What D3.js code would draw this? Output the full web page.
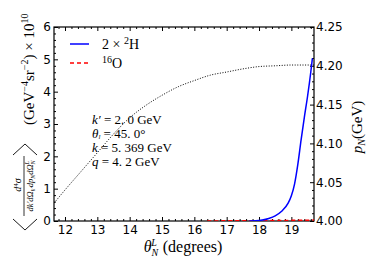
<!DOCTYPE html>
<html>
<head>
<meta charset="utf-8">
<script src="https://cdn.jsdelivr.net/npm/d3@7"></script>
<style>
body { margin: 0; background: #fff; }
svg { display: block; }
.tick text { font-family: "DejaVu Sans", sans-serif; font-size: 12px; fill: #000; }
.tick line { stroke: #000; }
.domain { display: none; }
.serif { font-family: "Liberation Serif", "DejaVu Serif", serif; fill: #000; }
</style>
</head>
<body>
<svg width="369" height="277"></svg>
<script>
// dotted curve: p_N vs theta (right axis)
const pTheta = [11.66, 12, 12.5, 13, 13.5, 14, 14.5, 15, 15.5, 16, 16.5, 17, 17.5, 18, 18.5, 19, 19.5, 19.7];
const pN = [4.023, 4.040, 4.064, 4.088, 4.112, 4.133, 4.149, 4.162, 4.173, 4.181, 4.188, 4.192, 4.196, 4.199, 4.200, 4.201, 4.201, 4.201];

// 2 x 2H cross section
const dTheta = [17.7, 17.9, 18.1, 18.3, 18.5, 18.7, 18.9, 19.0, 19.1, 19.2, 19.3, 19.4, 19.5, 19.6, 19.65];
const dVal = [0, 0.005, 0.03, 0.08, 0.16, 0.3, 0.55, 0.78, 1.15, 1.75, 2.5, 3.2, 3.85, 4.6, 5.03];

// 16O cross section
const oTheta = [16.4, 16.8, 17.2, 17.6, 18.0, 18.4, 18.8, 19.2, 19.6, 19.7];
const oVal = [0.002, 0.004, 0.006, 0.008, 0.011, 0.014, 0.018, 0.022, 0.027, 0.028];

const xTicks = [12, 13, 14, 15, 16, 17, 18, 19];
const yTicks = [0, 1, 2, 3, 4, 5, 6];
const rTicks = [4.00, 4.05, 4.10, 4.15, 4.20, 4.25];

const margin = { left: 54, right: 55, top: 27, bottom: 56 };
const W = 369, H = 277;
const svg = d3.select('svg');

const x = d3.scaleLinear().domain([11.66, 19.7]).range([margin.left, W - margin.right]);
const yL = d3.scaleLinear().domain([0, 6]).range([H - margin.bottom, margin.top]);
const yR = d3.scaleLinear().domain([4, 4.25]).range([H - margin.bottom, margin.top]);

const x0 = margin.left, x1 = W - margin.right, y0 = H - margin.bottom, y1 = margin.top;

const range = (a, b, s) => d3.range(Math.round((b - a) / s) + 1).map((i) => +(a + i * s).toFixed(4));
const xMinor = range(11.8, 19.6, 0.2).filter((v) => !xTicks.includes(v));
const yMinor = range(0, 6, 0.2).filter((v) => !yTicks.includes(v));
const rMinor = range(4, 4.25, 0.01).filter((v) => !rTicks.some((t) => Math.abs(t - v) < 1e-6));

// axes
svg.append('g').attr('transform', `translate(0,${y0})`)
	.call(d3.axisBottom(x).tickValues(xTicks).tickSize(-4).tickPadding(4).tickFormat(d3.format('d')));
svg.append('g').attr('transform', `translate(0,${y0})`)
	.call(d3.axisBottom(x).tickValues(xMinor).tickSize(-2).tickFormat(''));
svg.append('g').attr('transform', `translate(0,${y1})`)
	.call(d3.axisTop(x).tickValues(xTicks).tickSize(-4).tickFormat(''));
svg.append('g').attr('transform', `translate(0,${y1})`)
	.call(d3.axisTop(x).tickValues(xMinor).tickSize(-2).tickFormat(''));

svg.append('g').attr('transform', `translate(${x0},0)`)
	.call(d3.axisLeft(yL).tickValues(yTicks).tickSize(-4).tickPadding(3).tickFormat(d3.format('d')));
svg.append('g').attr('transform', `translate(${x0},0)`)
	.call(d3.axisLeft(yL).tickValues(yMinor).tickSize(-2).tickFormat(''));

svg.append('g').attr('transform', `translate(${x1},0)`)
	.call(d3.axisRight(yR).tickValues(rTicks).tickSize(-4).tickPadding(2).tickFormat(d3.format('.2f')));
svg.append('g').attr('transform', `translate(${x1},0)`)
	.call(d3.axisRight(yR).tickValues(rMinor).tickSize(-2).tickFormat(''));

svg.append('rect').attr('x', x0).attr('y', y1).attr('width', x1 - x0).attr('height', y0 - y1)
	.attr('fill', 'none').attr('stroke', '#000').attr('stroke-width', 1.2);

// curves
svg.append('clipPath').attr('id', 'clip').append('rect')
	.attr('x', x0).attr('y', y1 - 2).attr('width', x1 - x0).attr('height', y0 - y1 + 2);

const plot = svg.append('g').attr('clip-path', 'url(#clip)');

plot.append('path')
	.datum(pTheta.map((t, i) => [t, pN[i]]))
	.attr('d', d3.line().x((d) => x(d[0])).y((d) => yR(d[1])).curve(d3.curveMonotoneX))
	.attr('fill', 'none').attr('stroke', '#000').attr('stroke-width', 1).attr('stroke-dasharray', '1,1.6');

plot.append('path')
	.datum(oTheta.map((t, i) => [t, oVal[i]]))
	.attr('d', d3.line().x((d) => x(d[0])).y((d) => yL(d[1])).curve(d3.curveMonotoneX))
	.attr('fill', 'none').attr('stroke', '#ff0000').attr('stroke-width', 1.5).attr('stroke-dasharray', '4,3');

plot.append('path')
	.datum(dTheta.map((t, i) => [t, dVal[i]]))
	.attr('d', d3.line().x((d) => x(d[0])).y((d) => yL(d[1])).curve(d3.curveMonotoneX))
	.attr('fill', 'none').attr('stroke', '#0000ff').attr('stroke-width', 1.5);

// legend
svg.append('line').attr('x1', 70).attr('x2', 89).attr('y1', 44).attr('y2', 44)
	.attr('stroke', '#0000ff').attr('stroke-width', 1.5);
svg.append('line').attr('x1', 70).attr('x2', 89).attr('y1', 63).attr('y2', 63)
	.attr('stroke', '#ff0000').attr('stroke-width', 1.5).attr('stroke-dasharray', '4,3');

const l1 = svg.append('text').attr('class', 'serif').attr('x', 102).attr('y', 49).style('font-size', '14px');
l1.append('tspan').text('2 × ');
l1.append('tspan').attr('dy', -5).style('font-size', '10px').text('2');
l1.append('tspan').attr('dy', 5).text('H');

const l2 = svg.append('text').attr('class', 'serif').attr('x', 102).attr('y', 68).style('font-size', '14px');
l2.append('tspan').attr('dy', -5).style('font-size', '10px').text('16');
l2.append('tspan').attr('dy', 5).text('O');

// annotation
const ann = svg.append('g').attr('class', 'serif').style('font-size', '13px');
const a1 = ann.append('text').attr('x', 92).attr('y', 124);
a1.append('tspan').style('font-style', 'italic').text('k′');
a1.append('tspan').text(' = 2. 0 GeV');
const a2 = ann.append('text').attr('x', 92).attr('y', 138);
a2.append('tspan').style('font-style', 'italic').text('θ');
a2.append('tspan').style('font-style', 'italic').style('font-size', '7px').attr('dy', 1).text('l');
a2.append('tspan').attr('dy', -1).text(' = 45. 0°');
const a3 = ann.append('text').attr('x', 92).attr('y', 152);
a3.append('tspan').style('font-style', 'italic').text('k');
a3.append('tspan').text(' = 5. 369 GeV');
const a4 = ann.append('text').attr('x', 92).attr('y', 166);
a4.append('tspan').style('font-style', 'italic').text('q');
a4.append('tspan').text(' = 4. 2 GeV');

// x label
const xl = svg.append('text').attr('class', 'serif').attr('x', 183).attr('y', 252)
	.attr('text-anchor', 'middle').style('font-size', '16px');
xl.append('tspan').style('font-style', 'italic').text('θ');
xl.append('tspan').style('font-style', 'italic').style('font-size', '10px').attr('dy', 4).text('N');
xl.append('tspan').style('font-style', 'italic').style('font-size', '10px').attr('dx', -7).attr('dy', -10).text('L');
xl.append('tspan').attr('dx', 6).attr('dy', 6).text('(degrees)');

// right label
const rl = svg.append('text').attr('class', 'serif')
	.attr('transform', 'translate(362,127) rotate(-90)').attr('text-anchor', 'middle').style('font-size', '15px');
rl.append('tspan').style('font-style', 'italic').text('p');
rl.append('tspan').style('font-style', 'italic').style('font-size', '10px').attr('dy', 3).text('N');
rl.append('tspan').attr('dy', -3).text('(GeV)');

// left label
const yl = svg.append('g').attr('class', 'serif').attr('transform', 'translate(25,140) rotate(-90)');
yl.append('path').attr('d', 'M-79,-12 L-90,0 L-79,12').attr('fill', 'none').attr('stroke', '#000').attr('stroke-width', 0.9);
yl.append('path').attr('d', 'M-15,-12 L-4,0 L-15,12').attr('fill', 'none').attr('stroke', '#000').attr('stroke-width', 0.9);
yl.append('text').attr('x', -45).attr('y', -4).attr('text-anchor', 'middle').style('font-size', '10px')
	.call((t) => {
		t.append('tspan').style('font-style', 'italic').text('d');
		t.append('tspan').attr('dy', -3).style('font-size', '7px').text('4');
		t.append('tspan').attr('dy', 3).style('font-style', 'italic').text('σ');
	});
yl.append('line').attr('x1', -76).attr('x2', -16).attr('y1', -1).attr('y2', -1).attr('stroke', '#000').attr('stroke-width', 0.8);
yl.append('text').attr('x', -46).attr('y', 8).attr('text-anchor', 'middle').style('font-size', '8.5px').style('font-style', 'italic')
	.call((t) => {
		t.append('tspan').text('dk′dΩ');
		t.append('tspan').attr('dy', 2).style('font-size', '6px').text('k′');
		t.append('tspan').attr('dy', -2).text('dp');
		t.append('tspan').attr('dy', 2).style('font-size', '6px').text('N');
		t.append('tspan').attr('dy', -2).text('dΩ');
		t.append('tspan').attr('dy', 2).style('font-size', '6px').text('N');
		t.append('tspan').attr('dx', -4).attr('dy', -6).style('font-size', '6px').text('L');
	});
const ym = yl.append('text').attr('x', 15).attr('y', 9).style('font-size', '15px');
ym.append('tspan').text('(GeV');
ym.append('tspan').attr('dy', -6).style('font-size', '10px').text('−4');
ym.append('tspan').attr('dy', 6).text('sr');
ym.append('tspan').attr('dy', -6).style('font-size', '10px').text('−2');
ym.append('tspan').attr('dy', 6).text(') × 10');
ym.append('tspan').attr('dy', -6).style('font-size', '10px').text('10');
</script>
</body>
</html>
